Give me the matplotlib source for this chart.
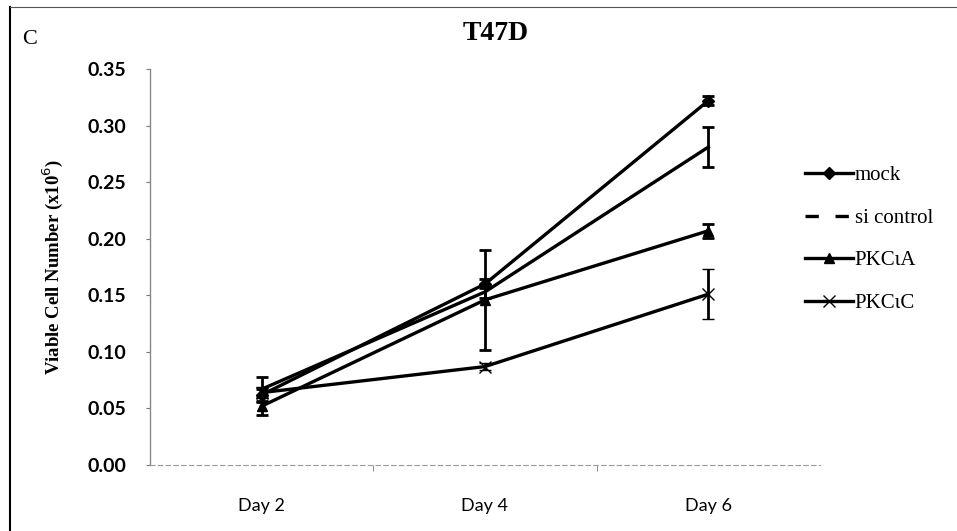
import matplotlib
matplotlib.use('Agg')
import matplotlib.pyplot as plt
from matplotlib.lines import Line2D

days = ['Day 2', 'Day 4', 'Day 6']                 # Categories on x-axis
mock = [0.062, 0.160, 0.322]                        # mock values
mock_err = [0.005, 0.004, 0.004]
si_control = [0.067, 0.153, 0.281]                  # si control values
si_control_err = [0.011, 0.005, 0.018]
pkc_a = [0.052, 0.146, 0.207]                       # PKCiA values
pkc_a_err = [0.008, 0.044, 0.006]
pkc_c = [0.064, 0.087, 0.151]                       # PKCiC values
pkc_c_err = [0.005, 0.003, 0.022]
y_ticks = [0.00, 0.05, 0.10, 0.15, 0.20, 0.25, 0.30, 0.35]

sans = 'Lato'
serif = 'Liberation Serif'

fig = plt.figure(figsize=(9.57, 5.31), dpi=100)
ax = fig.add_axes([150/957, 1 - 465/531, 670/957, 396/531])

x = range(len(days))
ekw = dict(ecolor='black', elinewidth=2, capsize=4, capthick=2)

ax.errorbar(x, pkc_c, yerr=pkc_c_err, color='black', lw=2.4, marker='x', ms=9, mew=1, **ekw)
ax.errorbar(x, pkc_a, yerr=pkc_a_err, color='black', lw=2.4, marker='^', ms=7, **ekw)
ax.errorbar(x, si_control, yerr=si_control_err, color='black', lw=2.4, **ekw)
ax.errorbar(x, mock, yerr=mock_err, color='black', lw=2.4, marker='D', ms=6, **ekw)

ax.set_xlim(-0.5, 2.5)
ax.set_ylim(0, 0.35)
ax.set_xticks(list(x))
ax.set_xticklabels(days, fontfamily=sans, fontsize=13)
ax.set_xticks([0.5, 1.5], minor=True)
ax.tick_params(axis='x', which='major', length=0, pad=24)
ax.tick_params(axis='x', which='minor', length=4, color='#777777', direction='out')
ax.set_yticks(y_ticks)
ax.set_yticklabels(['%.2f' % v for v in y_ticks], fontfamily=sans, fontsize=14, fontweight='bold')
ax.tick_params(axis='y', length=3, color='#777777', pad=14)

for s in ['top', 'right']:
    ax.spines[s].set_visible(False)
ax.spines['left'].set_color('#888888')
ax.spines['bottom'].set_color('#999999')
ax.spines['bottom'].set_linestyle((0, (4, 3)))
ax.spines['left'].set_linewidth(1)

ax.set_ylabel('Viable Cell Number (x10$^6$)', fontfamily=serif, fontweight='bold', fontsize=13.5, labelpad=16)
fig.text(496/957, 1 - 33/531, 'T47D', fontfamily=serif, fontweight='bold', fontsize=20, ha='center', va='center')
fig.text(22/957, 1 - 40/531, 'C', fontfamily=serif, fontsize=16, ha='left', va='center')

# legend with custom handles
handles = [
    Line2D([], [], color='black', lw=2.4, marker='D', ms=6),
    Line2D([], [], color='black', lw=2.4, dashes=(4, 5)),
    Line2D([], [], color='black', lw=2.4, marker='^', ms=7),
    Line2D([], [], color='black', lw=2.4, marker='x', ms=9, mew=1),
]
labels = ['mock', 'si control', 'PKC\u03b9A', 'PKC\u03b9C']
fig.legend(handles, labels, loc='upper left', bbox_to_anchor=(786/957, 1 - 147/531),
           frameon=False, prop={'family': serif, 'size': 15}, handlelength=2.3,
           handletextpad=0.1, labelspacing=1.1)

# scanned panel border on left and top
fig.add_artist(Line2D([10/957, 10/957], [0, 1 - 7/531], color='black', lw=1.5, transform=fig.transFigure))
fig.add_artist(Line2D([10/957, 1], [1 - 7/531, 1 - 7/531], color='#555555', lw=0.8, transform=fig.transFigure))

fig.savefig('out.png', dpi=100)
